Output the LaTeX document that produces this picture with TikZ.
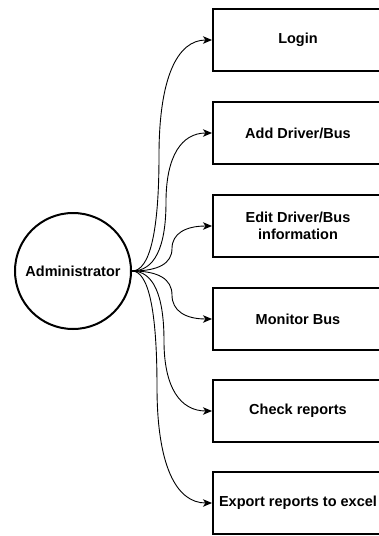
\documentclass[tikz,border=0pt]{standalone}
\usepackage{fontspec}
\setmainfont{Liberation Sans}
\usetikzlibrary{arrows.meta}

\def\textfont{\fontsize{14.5pt}{17pt}\selectfont\bfseries}
\def\boxX{298}
\def\startY{271}

\tikzset{
  actor/.style={draw, circle, line width=2pt, minimum size=116pt, inner sep=0pt, font=\textfont},
  task/.style={draw, rectangle, line width=2pt, minimum width=170pt, minimum height=62pt,
    inner sep=0pt, align=center, font=\textfont},
  flow/.style={-{Stealth[length=9pt,width=7.5pt,inset=2.5pt]}, line width=0.9pt},
}

\begin{document}
\begin{tikzpicture}[x=1pt,y=-1pt]
\useasboundingbox (0,0) rectangle (378,536);
\node[actor] (admin) at (73,\startY) {Administrator};
% each task: name / y / bend x / text
\foreach \name/\ty/\bx/\txt in {login/40/159/Login, add/133/166/{Add Driver/Bus},
  edit/226/172/{Edit Driver/Bus\\information}, monitor/319/172/{Monitor Bus},
  check/411/164/{Check reports}, export/503/157/{Export reports to excel}}
{
	\node[task] (\name) at (\boxX,\ty) {\txt};
	\pgfmathsetmacro\my{(\startY+\ty)/2}
	\draw[flow] (admin.east)
	  .. controls ({131+2/3*(\bx-131)},\startY) and (\bx,{\my+2/3*(\startY-\my)}) .. (\bx,\my)
	  .. controls (\bx,{\my+2/3*(\ty-\my)}) and ({213+2/3*(\bx-213)},\ty) .. (\name.west);
}
\end{tikzpicture}
\end{document}
